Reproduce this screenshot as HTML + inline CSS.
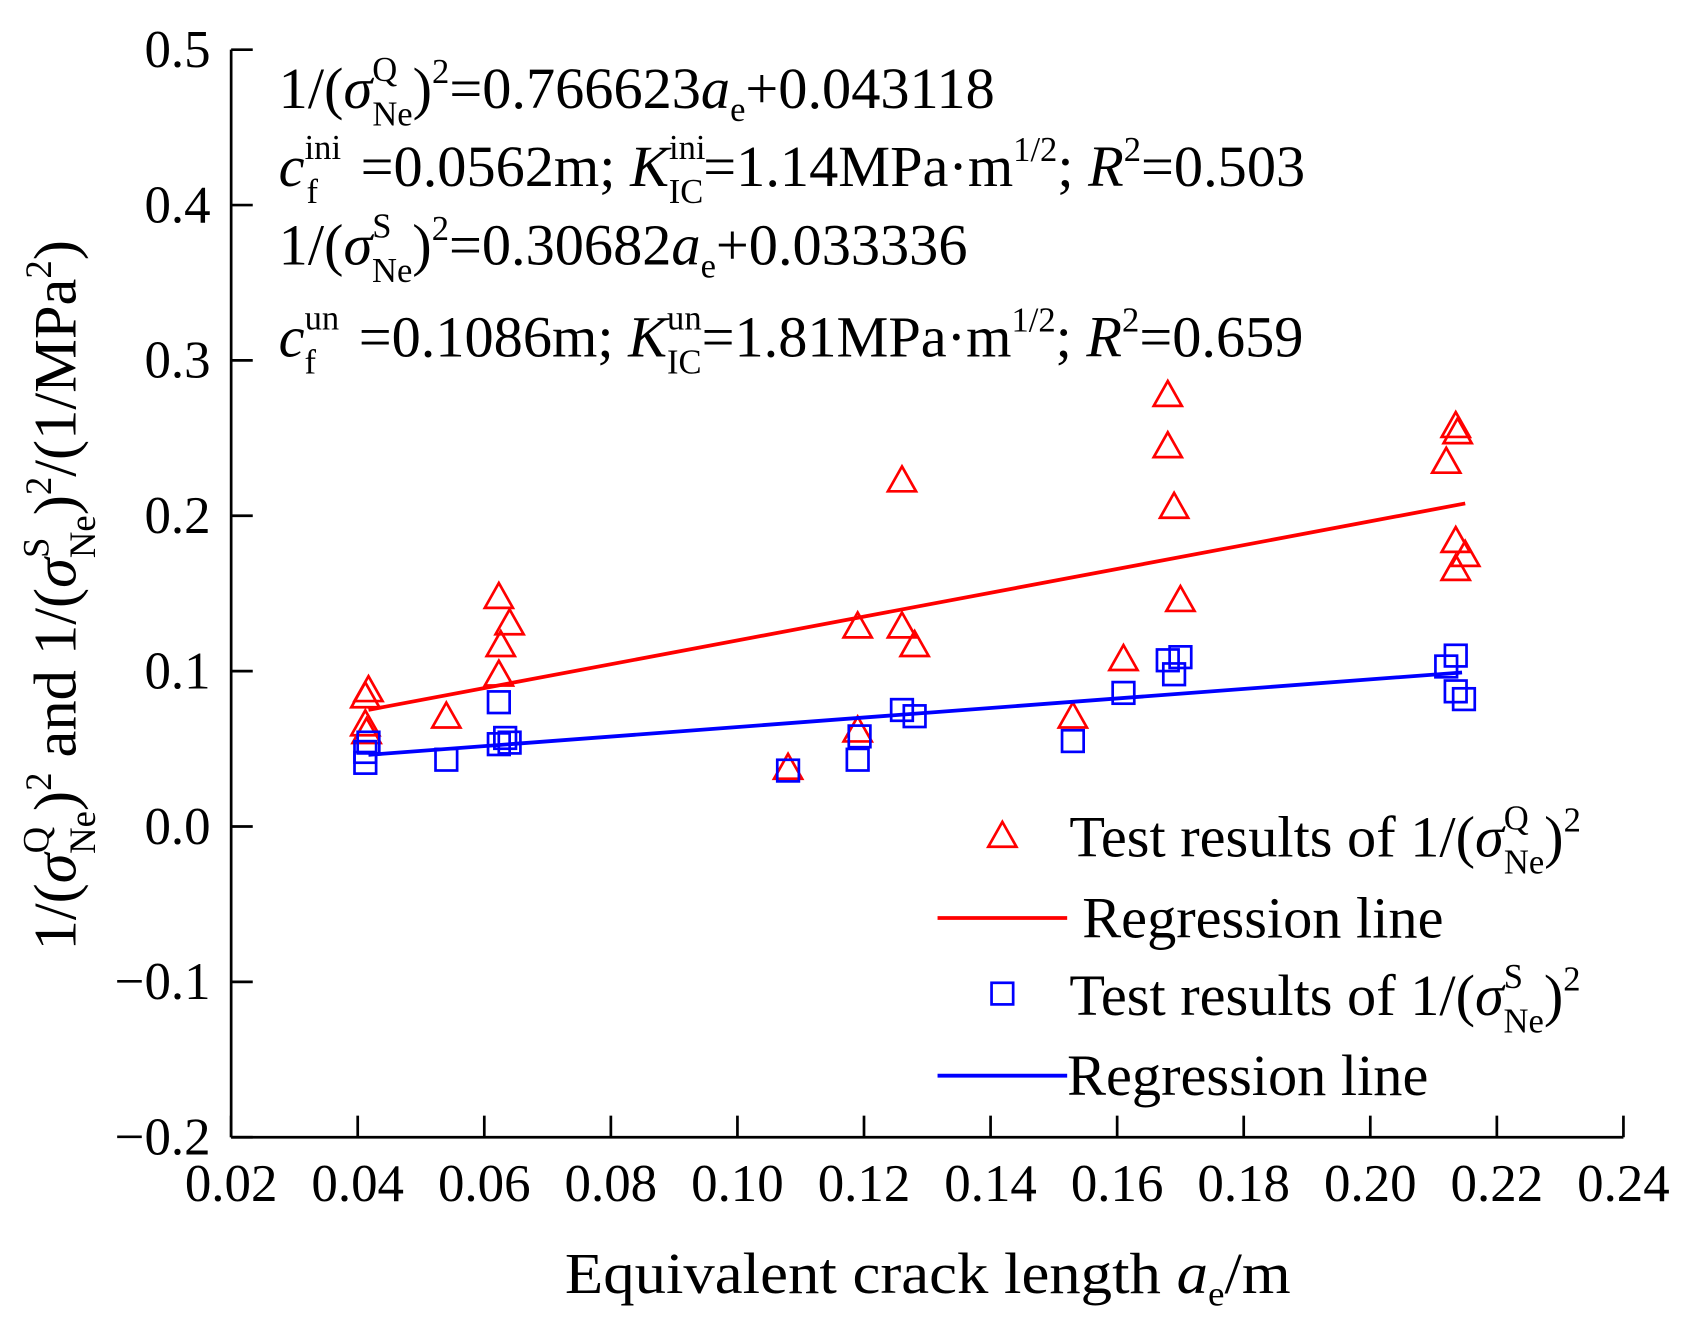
<!DOCTYPE html>
<html><head><meta charset="utf-8"><style>
html,body{margin:0;padding:0;background:#fff}
svg{display:block;font-family:"Liberation Serif",serif}
</style></head><body>
<svg id="chart" width="1685" height="1323" viewBox="0 0 1560 1225" preserveAspectRatio="none" xmlns="http://www.w3.org/2000/svg">
<rect width="1560" height="1225" fill="#fff"/>
<g id="axes"></g>
<g id="marks"></g>
<g font-size="54" fill="#000">
 <text x="258" y="100">1/(<tspan font-style="italic">σ</tspan><tspan font-size="32" dy="-25">Q</tspan><tspan font-size="32" dx="-23" dy="41">Ne</tspan><tspan dy="-16">)</tspan><tspan font-size="32" dy="-23">2</tspan><tspan dy="23">=0.766623</tspan><tspan font-style="italic">a</tspan><tspan font-size="32" dy="12">e</tspan><tspan dy="-12">+0.043118</tspan></text>
 <text x="258" y="172"><tspan font-style="italic">c</tspan><tspan font-size="32" dy="-25">ini</tspan><tspan font-size="32" dx="-32" dy="41">f</tspan><tspan dx="26" dy="-16"> =0.0562m; </tspan><tspan font-style="italic">K</tspan><tspan font-size="32" dy="-25">ini</tspan><tspan font-size="32" dx="-34" dy="41">IC</tspan><tspan dy="-16">=1.14MPa·m</tspan><tspan font-size="32" dy="-23">1/2</tspan><tspan dy="23">; </tspan><tspan font-style="italic">R</tspan><tspan font-size="32" dy="-23">2</tspan><tspan dy="23">=0.503</tspan></text>
 <text x="258" y="245">1/(<tspan font-style="italic">σ</tspan><tspan font-size="32" dy="-25">S</tspan><tspan font-size="32" dx="-18" dy="41">Ne</tspan><tspan dy="-16">)</tspan><tspan font-size="32" dy="-23">2</tspan><tspan dy="23">=0.30682</tspan><tspan font-style="italic">a</tspan><tspan font-size="32" dy="12">e</tspan><tspan dy="-12">+0.033336</tspan></text>
 <text x="258" y="330"><tspan font-style="italic">c</tspan><tspan font-size="32" dy="-25">un</tspan><tspan font-size="32" dx="-32" dy="41">f</tspan><tspan dx="26" dy="-16"> =0.1086m; </tspan><tspan font-style="italic">K</tspan><tspan font-size="32" dy="-25">un</tspan><tspan font-size="32" dx="-32" dy="41">IC</tspan><tspan dy="-16">=1.81MPa·m</tspan><tspan font-size="32" dy="-23">1/2</tspan><tspan dy="23">; </tspan><tspan font-style="italic">R</tspan><tspan font-size="32" dy="-23">2</tspan><tspan dy="23">=0.659</tspan></text>
</g>
<g font-size="54">
 <polygon points="928,761 941,784 915,784" fill="none" stroke="#f00" stroke-width="2.5"/>
 <text x="990" y="793">Test results of 1/(<tspan font-style="italic">σ</tspan><tspan font-size="32" dy="-25">Q</tspan><tspan font-size="32" dx="-23" dy="41">Ne</tspan><tspan dy="-16">)</tspan><tspan font-size="32" dy="-23">2</tspan></text>
 <line x1="868" y1="850" x2="988" y2="850" stroke="#f00" stroke-width="3.5"/>
 <text x="1002" y="868">Regression line</text>
 <rect x="918" y="910" width="20" height="20" fill="none" stroke="#00f" stroke-width="2.5"/>
 <text x="990" y="940">Test results of 1/(<tspan font-style="italic">σ</tspan><tspan font-size="32" dy="-25">S</tspan><tspan font-size="32" dx="-18" dy="41">Ne</tspan><tspan dy="-16">)</tspan><tspan font-size="32" dy="-23">2</tspan></text>
 <line x1="868" y1="996" x2="988" y2="996" stroke="#00f" stroke-width="3.5"/>
 <text x="988" y="1014">Regression line</text>
</g>
<text x="523" y="1197" font-size="54" textLength="672" lengthAdjust="spacingAndGlyphs">Equivalent crack length <tspan font-style="italic">a</tspan><tspan font-size="32" dy="12">e</tspan><tspan dy="-12">/m</tspan></text>
<text transform="translate(70,880) rotate(-90)" font-size="56">1/(<tspan font-style="italic">σ</tspan><tspan font-size="34" dy="-25">Q</tspan><tspan font-size="34" dx="-25" dy="43">Ne</tspan><tspan dy="-18">)</tspan><tspan font-size="34" dy="-23">2</tspan><tspan dy="23"> and 1/(</tspan><tspan font-style="italic">σ</tspan><tspan font-size="34" dy="-25">S</tspan><tspan font-size="34" dx="-19" dy="43">Ne</tspan><tspan dy="-18">)</tspan><tspan font-size="34" dy="-23">2</tspan><tspan dy="23">/(1/MPa</tspan><tspan font-size="34" dy="-23">2</tspan><tspan dy="23">)</tspan></text>
<script>
const xTicks=[0.02,0.04,0.06,0.08,0.10,0.12,0.14,0.16,0.18,0.20,0.22,0.24];
const xTickLabels=["0.02","0.04","0.06","0.08","0.10","0.12","0.14","0.16","0.18","0.20","0.22","0.24"];
const yTicks=[0.5,0.4,0.3,0.2,0.1,0.0,-0.1,-0.2];
const yTickLabels=["0.5","0.4","0.3","0.2","0.1","0.0","\u22120.1","\u22120.2"];
const qX=[0.0417,0.0412,0.0412,0.0414,0.054,0.0623,0.0626,0.064,0.0623,0.108,0.119,0.119,0.126,0.126,0.128,0.153,0.161,0.168,0.168,0.169,0.170,0.212,0.2135,0.2138,0.2135,0.215,0.2135];
const qY=[0.087,0.083,0.065,0.060,0.070,0.147,0.116,0.130,0.097,0.037,0.128,0.061,0.222,0.128,0.116,0.070,0.107,0.277,0.244,0.205,0.145,0.234,0.257,0.253,0.183,0.174,0.165];
const sX=[0.0412,0.0412,0.0417,0.054,0.0623,0.0623,0.0633,0.064,0.108,0.119,0.1193,0.126,0.128,0.153,0.161,0.168,0.170,0.169,0.212,0.2135,0.2135,0.2148];
const sY=[0.048,0.041,0.054,0.043,0.080,0.053,0.057,0.054,0.036,0.043,0.058,0.075,0.071,0.055,0.086,0.107,0.109,0.098,0.103,0.110,0.087,0.082];
const qSlope=0.766623, qIntercept=0.043118, qRange=[0.0417,0.215];
const sSlope=0.30682, sIntercept=0.033336, sRange=[0.0417,0.2145];
const X0=214,X1=1503,Y0=46,Y1=1053;
function sx(v){return X0+(v-0.02)/(0.24-0.02)*(X1-X0);}
function sy(v){return Y0+(0.5-v)/0.7*(Y1-Y0);}
const NS="http://www.w3.org/2000/svg";
function mk(tag,attrs,parent){const e=document.createElementNS(NS,tag);for(const k in attrs)e.setAttribute(k,attrs[k]);parent.appendChild(e);return e;}
const axes=document.getElementById('axes'),marks=document.getElementById('marks');
let a=mk('line',{x1:X0,y1:Y0,x2:X0,y2:Y1,stroke:'#000','stroke-width':2.5},axes);


a=mk('line',{x1:X0,y1:Y1,x2:X1,y2:Y1,stroke:'#000','stroke-width':2.5},axes);


xTicks.forEach((v,i)=>{
 const t=mk('line',{x1:sx(v),y1:Y1,x2:sx(v),y2:Y1-20,stroke:'#000','stroke-width':2.5},axes);
 
 
 const l=mk('text',{x:sx(v),y:Y1+59,'text-anchor':'middle','font-size':49},axes);
 l.textContent=xTickLabels[i];
 
 
});
yTicks.forEach((v,i)=>{
 const t=mk('line',{x1:X0,y1:sy(v),x2:X0+20,y2:sy(v),stroke:'#000','stroke-width':2.5},axes);
 
 
 const l=mk('text',{x:X0-19,y:sy(v)+16,'text-anchor':'end','font-size':49},axes);
 l.textContent=yTickLabels[i];
 
 
});
qX.forEach((v,i)=>{
 const cx=sx(v),cy=sy(qY[i]);
 const p=mk('polygon',{points:`${cx},${cy-14} ${cx+13},${cy+9} ${cx-13},${cy+9}`,fill:'none',stroke:'#f00','stroke-width':2.5},marks);
 
 
});
let r=mk('line',{x1:sx(qRange[0]),y1:sy(qSlope*qRange[0]+qIntercept),x2:sx(qRange[1]),y2:sy(qSlope*qRange[1]+qIntercept),stroke:'#f00','stroke-width':3.5},marks);


sX.forEach((v,i)=>{
 const cx=sx(v),cy=sy(sY[i]);
 const p=mk('rect',{x:cx-10,y:cy-10,width:20,height:20,fill:'none',stroke:'#00f','stroke-width':2.5},marks);
 
 
});
r=mk('line',{x1:sx(sRange[0]),y1:sy(sSlope*sRange[0]+sIntercept),x2:sx(sRange[1]),y2:sy(sSlope*sRange[1]+sIntercept),stroke:'#00f','stroke-width':3.5},marks);


</script>
</svg>
</body></html>
